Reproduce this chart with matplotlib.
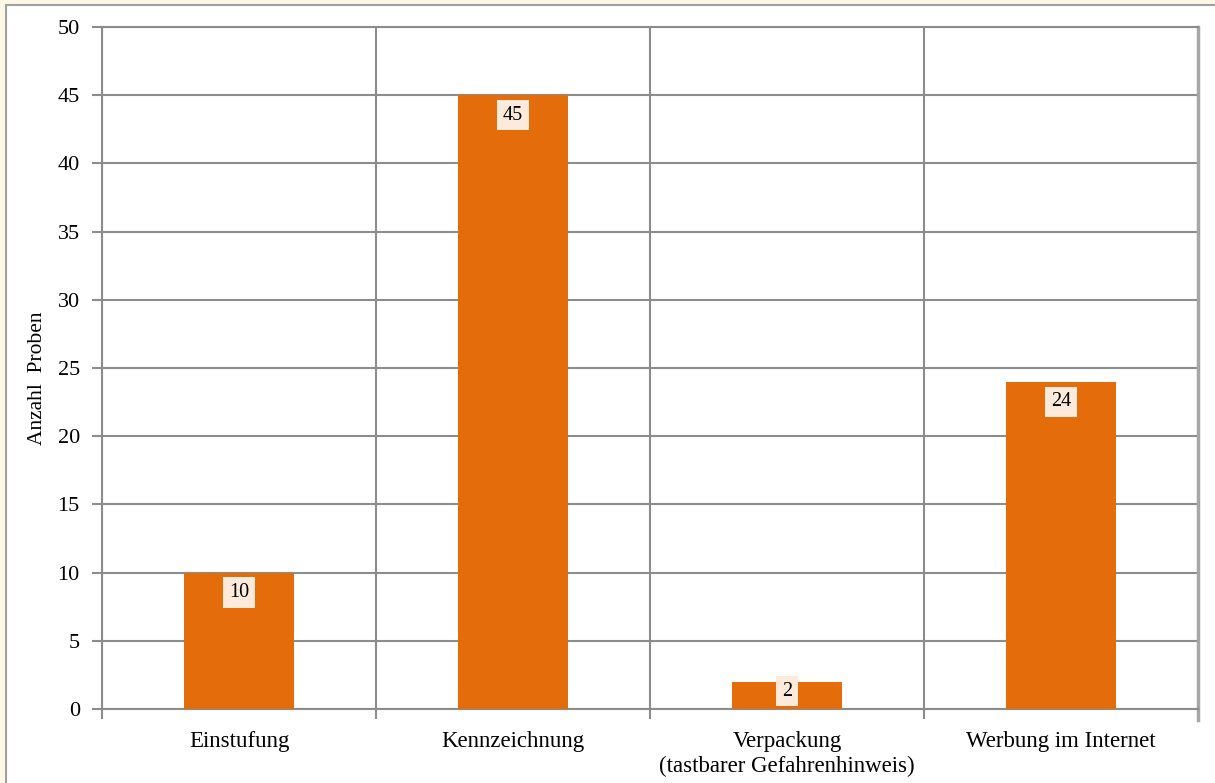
import matplotlib
matplotlib.use("Agg")
import matplotlib.pyplot as plt
from matplotlib.patches import Rectangle
import numpy as np

categories = ["Einstufung", "Kennzeichnung", "Verpackung\n(tastbarer Gefahrenhinweis)", "Werbung im Internet"]
values = [10, 45, 2, 24]
yticks = [0, 5, 10, 15, 20, 25, 30, 35, 40, 45, 50]

plt.rcParams['font.family'] = ['Liberation Serif', 'DejaVu Serif']

W, H = 1215, 783
fig = plt.figure(figsize=(W/100, H/100), dpi=100)
fig.patch.set_facecolor('#fcf8e5')
fig.patches.append(Rectangle((6/W, -0.01), 1 - 6/W + 0.01, 1 - 5/H + 0.01, transform=fig.transFigure,
                             facecolor='white', edgecolor='#a0a0a0', linewidth=1.5, zorder=-5))

ax_h_px = 709 - 27
ax = fig.add_axes([102/W, 1 - 709/H, (1198-102)/W, ax_h_px/H])
ax.set_zorder(2)
ax.set_facecolor('none')
grid_c = '#8c8c8c'
x = np.arange(len(categories))
ax.bar(x, values, width=0.40, color='#e46c0a', zorder=3)
ymax = 50
for xi, v in zip(x, values):
    v_px = v / ymax * ax_h_px
    off_px = min(20.0, v_px - 18.0)
    ax.annotate(str(v), xy=(xi, v), xytext=(0, -off_px * 0.72), textcoords='offset points',
                ha='center', va='center', fontsize=14.5, zorder=5,
                bbox=dict(boxstyle='square,pad=0.28', facecolor='#fdeada', edgecolor='none'))

ax.set_xlim(-0.5, len(categories) - 0.5)
ax.set_ylim(0, ymax)
ax.set_yticks(yticks)
ax.set_xticks(x)
ax.set_xticklabels(categories, fontsize=16.5, linespacing=1.2)
ax.set_xticks(np.arange(len(categories)) - 0.5, minor=True)
ax.tick_params(axis='x', which='major', length=0, pad=16)
ax.tick_params(axis='x', which='minor', length=7, color=grid_c, width=1.5)
ax.tick_params(axis='y', length=7, color=grid_c, width=1.5, labelsize=16, pad=9)
ax.grid(axis='y', color=grid_c, linewidth=1.5, zorder=0)
ax.grid(axis='x', which='minor', color=grid_c, linewidth=1.5, zorder=0)
for s in ['left', 'bottom', 'top']:
    ax.spines[s].set_color(grid_c)
    ax.spines[s].set_linewidth(1.5)
ax.spines['right'].set_color('#a6a6a6')
ax.spines['right'].set_linewidth(2.5)
ax.spines['right'].set_bounds(-0.8, 50)
ax.set_ylabel('Anzahl  Proben', fontsize=15.5)
ax.yaxis.set_label_coords(-0.050, 0.485)
ax.set_axisbelow(True)

fig.savefig('out.png', dpi=100, facecolor=fig.get_facecolor())
